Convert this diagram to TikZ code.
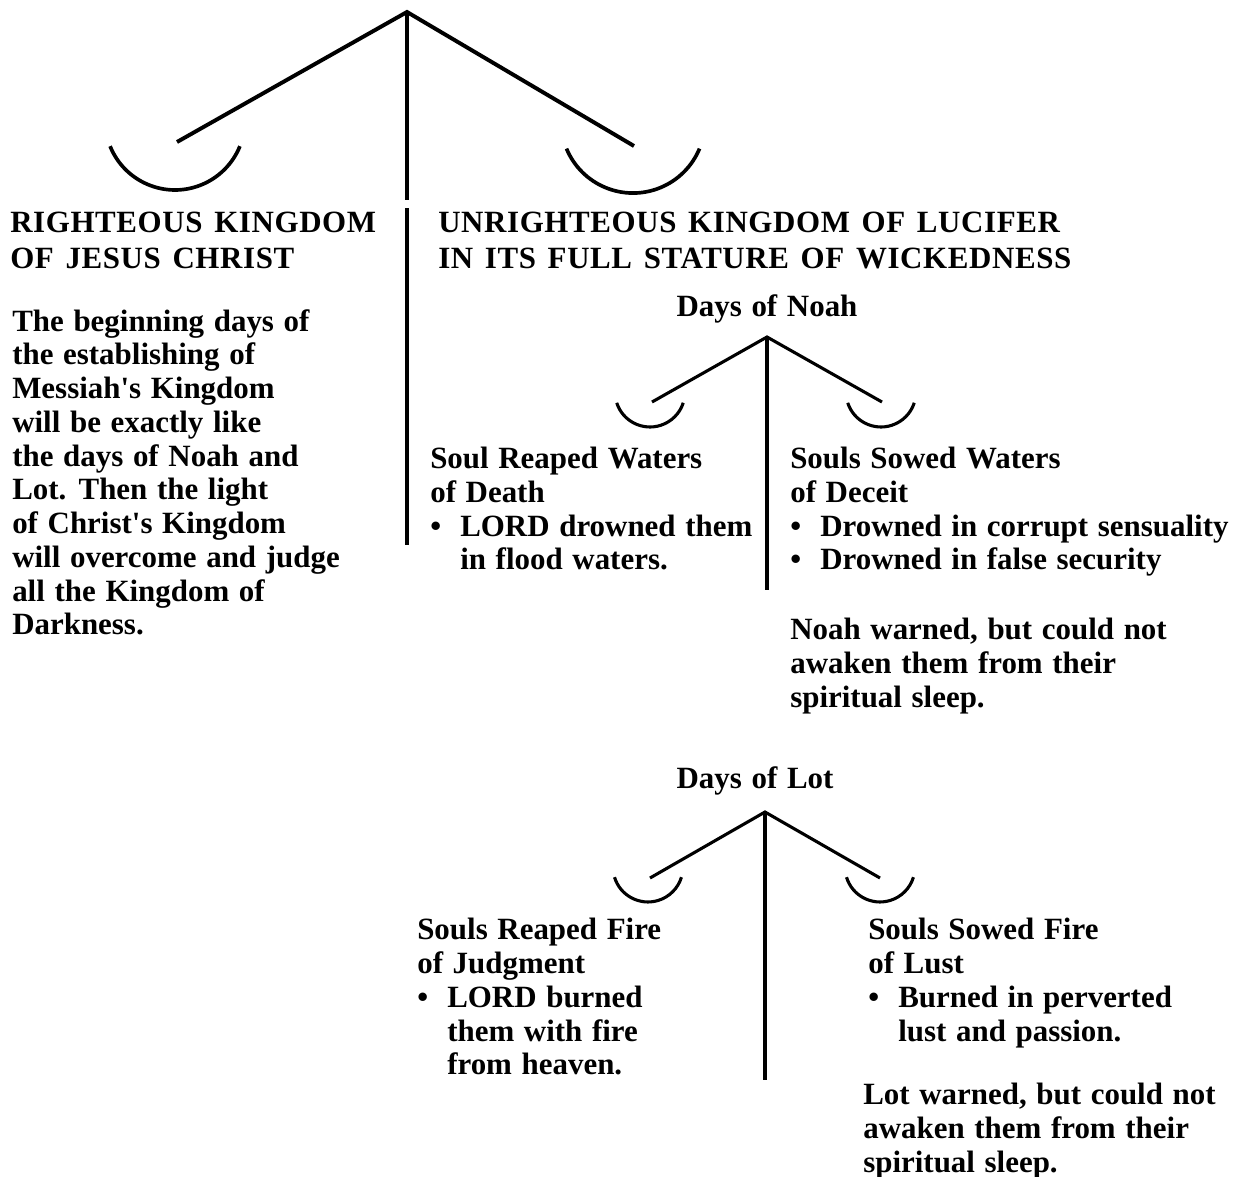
\documentclass[tikz,border=0pt]{standalone}
\usepackage{fontspec}
\setmainfont{Liberation Serif}[WordSpace=1.25]
\newfontfamily\headfont[LetterSpace=2.0, WordSpace=1.4]{Liberation Serif}
\usetikzlibrary{positioning}

\newcommand{\bul}{\makebox[0.75cm][l]{\textbullet}}
\newcommand{\ind}{\makebox[0.75cm][l]{}}

\begin{document}
\begin{tikzpicture}[
    x=0.025cm, y=-0.025cm,
    every node/.style={font=\bfseries\fontsize{22}{24}\selectfont},
    txt/.style={anchor=north west, inner sep=0pt, align=left},
    head/.style={anchor=north west, inner sep=0pt, align=left, font=\headfont\bfseries\fontsize{22}{25.5}\selectfont},
    title/.style={inner sep=0pt},
    beam/.style={line width=2.8pt},
    smallbeam/.style={line width=2.2pt},
    pan/.style={line width=2.6pt},
    smallpan/.style={line width=2.2pt}
]
\useasboundingbox (0,0) rectangle (1237,1177);

% ============ MAIN SCALE ============
\coordinate (main_apex) at (407,12);
\coordinate (main_left) at (177,142);
\coordinate (main_right) at (634,146);
\coordinate (main_break) at (407,200);
\coordinate (main_resume) at (407,208);
\coordinate (main_foot) at (407,545);

\draw[beam] (main_left) -- (main_apex) -- (main_right);
\draw[beam] (main_apex) -- (main_break);
\draw[beam] (main_resume) -- (main_foot);

% Pans
\draw[pan] (110.1,146.2) arc[start angle=158, end angle=22, radius=70];
\draw[pan] (566.5,148.6) arc[start angle=157.5, end angle=22.5, radius=72];

% Headings
\node[head] (rk_head) at (10,212) {RIGHTEOUS KINGDOM\\OF JESUS CHRIST};
\node[head] (uk_head) at (438,212) {UNRIGHTEOUS KINGDOM OF LUCIFER\\IN ITS FULL STATURE OF WICKEDNESS};

% Left text
\node[txt] (rk_text) at (12,309) {The beginning days of\\the establishing of\\Messiah\textquotesingle s Kingdom\\will be exactly like\\the days of Noah and\\Lot. Then the light\\of Christ\textquotesingle s Kingdom\\will overcome and judge\\all the Kingdom of\\Darkness.};

% ============ DAYS OF NOAH ============
\coordinate (noah_apex) at (767,337);
\coordinate (noah_left) at (652,402);
\coordinate (noah_right) at (882,402);
\coordinate (noah_foot) at (767,590);

\node[title, above=0.35cm of noah_apex] (noah_title) {Days of Noah};

\draw[smallbeam] (noah_left) -- (noah_apex) -- (noah_right);
\draw[smallbeam] (noah_apex) -- (noah_foot);
\draw[smallpan] (616.7,402.8) arc[start angle=162, end angle=18, radius=35];
\draw[smallpan] (847.7,402.8) arc[start angle=162, end angle=18, radius=35];

\node[txt] (noah_reap) at (430,447) {Soul Reaped Waters\\of Death\\\bul LORD drowned them\\\ind in flood waters.};
\node[txt] (noah_sow) at (790,447) {Souls Sowed Waters\\of Deceit\\\bul Drowned in corrupt sensuality\\\bul Drowned in false security};
\node[txt] (noah_warn) at (790,618) {Noah warned, but could not\\awaken them from their\\spiritual sleep.};

% ============ DAYS OF LOT ============
\coordinate (lot_apex) at (765,812);
\coordinate (lot_left) at (650,878);
\coordinate (lot_right) at (880,878);
\coordinate (lot_foot) at (765,1080);

\node[title, above=0.42cm of lot_apex, xshift=-0.25cm] (lot_title) {Days of Lot};

\draw[smallbeam] (lot_left) -- (lot_apex) -- (lot_right);
\draw[smallbeam] (lot_apex) -- (lot_foot);
\draw[smallpan] (614.5,877.2) arc[start angle=163, end angle=17, radius=35];
\draw[smallpan] (846.5,877.2) arc[start angle=163, end angle=17, radius=35];

\node[txt] (lot_reap) at (417,918) {Souls Reaped Fire\\of Judgment\\\bul LORD burned\\\ind them with fire\\\ind from heaven.};
\node[txt] (lot_sow) at (868,918) {Souls Sowed Fire\\of Lust\\\bul Burned in perverted\\\ind lust and passion.};
\node[txt] (lot_warn) at (863,1083) {Lot warned, but could not\\awaken them from their\\spiritual sleep.};

\end{tikzpicture}
\end{document}
